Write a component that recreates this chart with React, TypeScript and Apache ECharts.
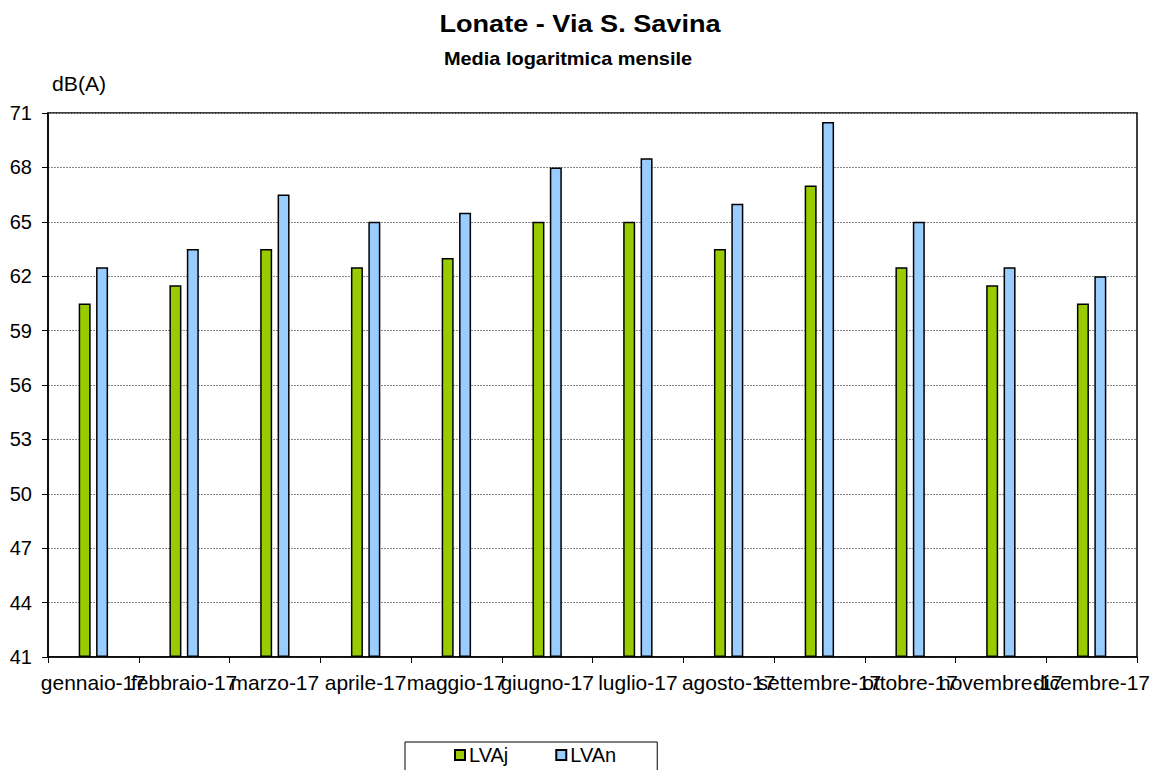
import React, { useEffect, useRef } from "react";
import * as echarts from "echarts";

const categories = [
  "gennaio-17", "febbraio-17", "marzo-17", "aprile-17", "maggio-17", "giugno-17",
  "luglio-17", "agosto-17", "settembre-17", "ottobre-17", "novembre-17", "dicembre-17",
];
const lvaj = [60.5, 61.5, 63.5, 62.5, 63.0, 65.0, 65.0, 63.5, 67.0, 62.5, 61.5, 60.5];
const lvan = [62.5, 63.5, 66.5, 65.0, 65.5, 68.0, 68.5, 66.0, 70.5, 65.0, 62.5, 62.0];
const yMin = 41;
const yMax = 71;
const yStep = 3;

const FONT = "Liberation Sans, Arial, sans-serif";

export default function App() {
  const ref = useRef<HTMLDivElement>(null);
  useEffect(() => {
    if (!ref.current) return;
    const chart = echarts.init(ref.current, null, { renderer: "svg" });
    chart.setOption({
      animation: false,
      backgroundColor: "#ffffff",
      textStyle: { fontFamily: FONT },
      graphic: [
        {
          type: "text", x: 580, y: 36, scaleX: 1.13,
          style: {
            text: "Lonate - Via S. Savina", font: `bold 24px ${FONT}`, fill: "#000",
            align: "center", verticalAlign: "bottom",
          },
        },
        {
          type: "text", x: 568, y: 68, scaleX: 1.05,
          style: {
            text: "Media logaritmica mensile", font: `bold 19px ${FONT}`, fill: "#000",
            align: "center", verticalAlign: "bottom",
          },
        },
        {
          type: "text", x: 52, y: 74, scaleX: 1.06,
          style: { text: "dB(A)", font: `20px ${FONT}`, fill: "#000" },
        },
      ],
      grid: {
        left: 48, right: 21, top: 113, bottom: 113,
        show: true, borderColor: "#000", borderWidth: 1.5, backgroundColor: "transparent",
      },
      legend: {
        left: 405, top: 742,
        padding: [3, 41, 14, 49],
        borderColor: "#000", borderWidth: 1,
        itemWidth: 10, itemHeight: 10, itemGap: 47,
        icon: "rect",
        textStyle: { fontSize: 20, color: "#000", fontFamily: FONT, padding: [0, 0, 0, -1] },
        data: ["LVAj", "LVAn"],
      },
      xAxis: {
        type: "category",
        data: categories,
        axisLine: { lineStyle: { color: "#000", width: 1.5 } },
        axisTick: { show: true, length: 6, lineStyle: { color: "#000" } },
        axisLabel: { interval: 0, fontSize: 21, color: "#000", margin: 15, fontFamily: FONT },
      },
      yAxis: {
        type: "value",
        min: yMin, max: yMax, interval: yStep, startValue: yMin,
        axisLine: { show: true, lineStyle: { color: "#000", width: 1.5 } },
        axisTick: { show: true, length: 6, lineStyle: { color: "#000" } },
        axisLabel: { fontSize: 20, color: "#000", margin: 16, fontFamily: FONT },
        splitLine: { show: true, lineStyle: { color: "#888", width: 1, type: [2, 1] } },
      },
      series: [
        {
          name: "LVAj", type: "bar", data: lvaj, barWidth: 12, barGap: "45%",
          itemStyle: { color: "#99cc00", borderColor: "#000", borderWidth: 1.5 },
        },
        {
          name: "LVAn", type: "bar", data: lvan, barWidth: 12,
          itemStyle: { color: "#99ccff", borderColor: "#000", borderWidth: 1.5 },
        },
      ],
    });
    return () => chart.dispose();
  }, []);
  return (
    <div
      ref={ref}
      style={{ position: "fixed", left: 0, top: 0, width: 1158, height: 770 }}
    />
  );
}
